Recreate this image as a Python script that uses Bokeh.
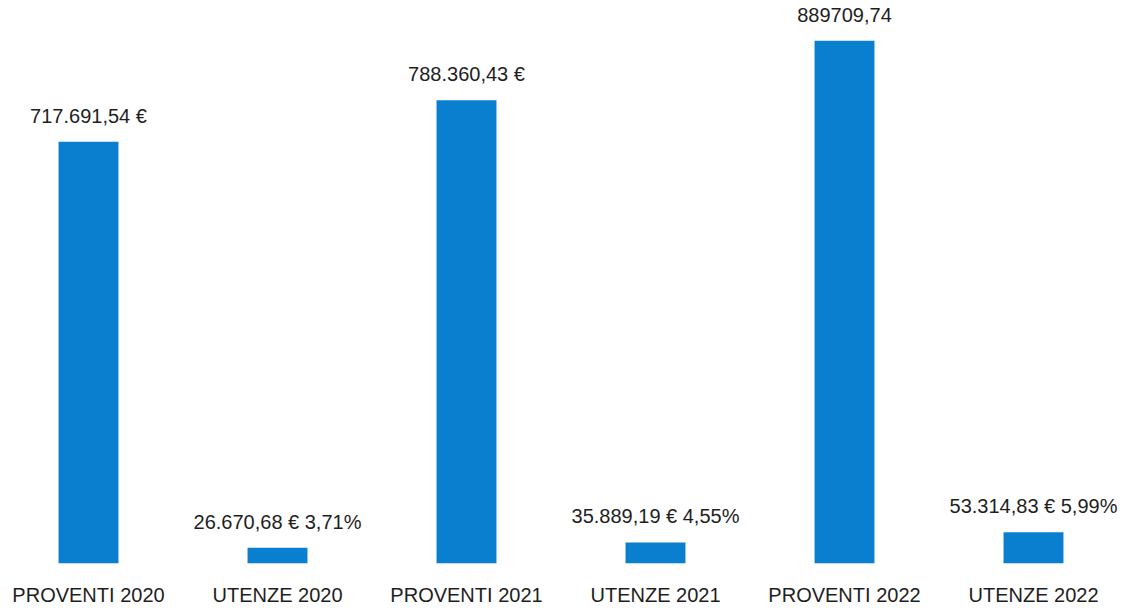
from bokeh.plotting import figure
from bokeh.models import Range1d, FixedTicker, ColumnDataSource
from bokeh.core.properties import value
from bokeh.embed import file_html
from bokeh.resources import INLINE

categories = ["PROVENTI 2020", "UTENZE 2020", "PROVENTI 2021", "UTENZE 2021", "PROVENTI 2022", "UTENZE 2022"]
values = [717691.54, 26670.68, 788360.43, 35889.19, 889709.74, 53314.83]
labels = ["717.691,54 €", "26.670,68 € 3,71%", "788.360,43 €", "35.889,19 € 4,55%", "889709,74", "53.314,83 € 5,99%"]

FONT = "Liberation Sans"
xs = list(range(len(categories)))
src = ColumnDataSource(dict(x=xs, top=values, label=labels))

x0 = -88 / 189
p = figure(width=1120, height=608, output_backend="svg", toolbar_location=None,
           x_range=Range1d(x0, x0 + 1120 / 189), y_range=Range1d(0, 958000),
           min_border_left=0, min_border_right=0, min_border_top=0, min_border_bottom=0)
p.outline_line_color = None
p.background_fill_color = "white"
p.border_fill_color = "white"
p.grid.visible = False
p.yaxis.visible = False

p.vbar(x="x", top="top", bottom=0, width=0.317, source=src, fill_color="#0A7FCF", line_color=None)
p.text(x="x", y="top", text="label", source=src, text_align="center", text_baseline="middle",
       y_offset=-26, text_font=value(FONT), text_font_size="20px", text_color="#1e1e1e")

ax = p.xaxis[0]
ax.ticker = FixedTicker(ticks=xs)
ax.major_label_overrides = {i: c for i, c in enumerate(categories)}
ax.axis_line_color = None
ax.major_tick_line_color = None
ax.minor_tick_line_color = None
ax.major_tick_out = 0
ax.major_label_standoff = 20
ax.major_label_text_font = FONT
ax.major_label_text_font_size = "20px"
ax.major_label_text_color = "#1e1e1e"

open("out.html", "w").write(file_html(p, INLINE))
